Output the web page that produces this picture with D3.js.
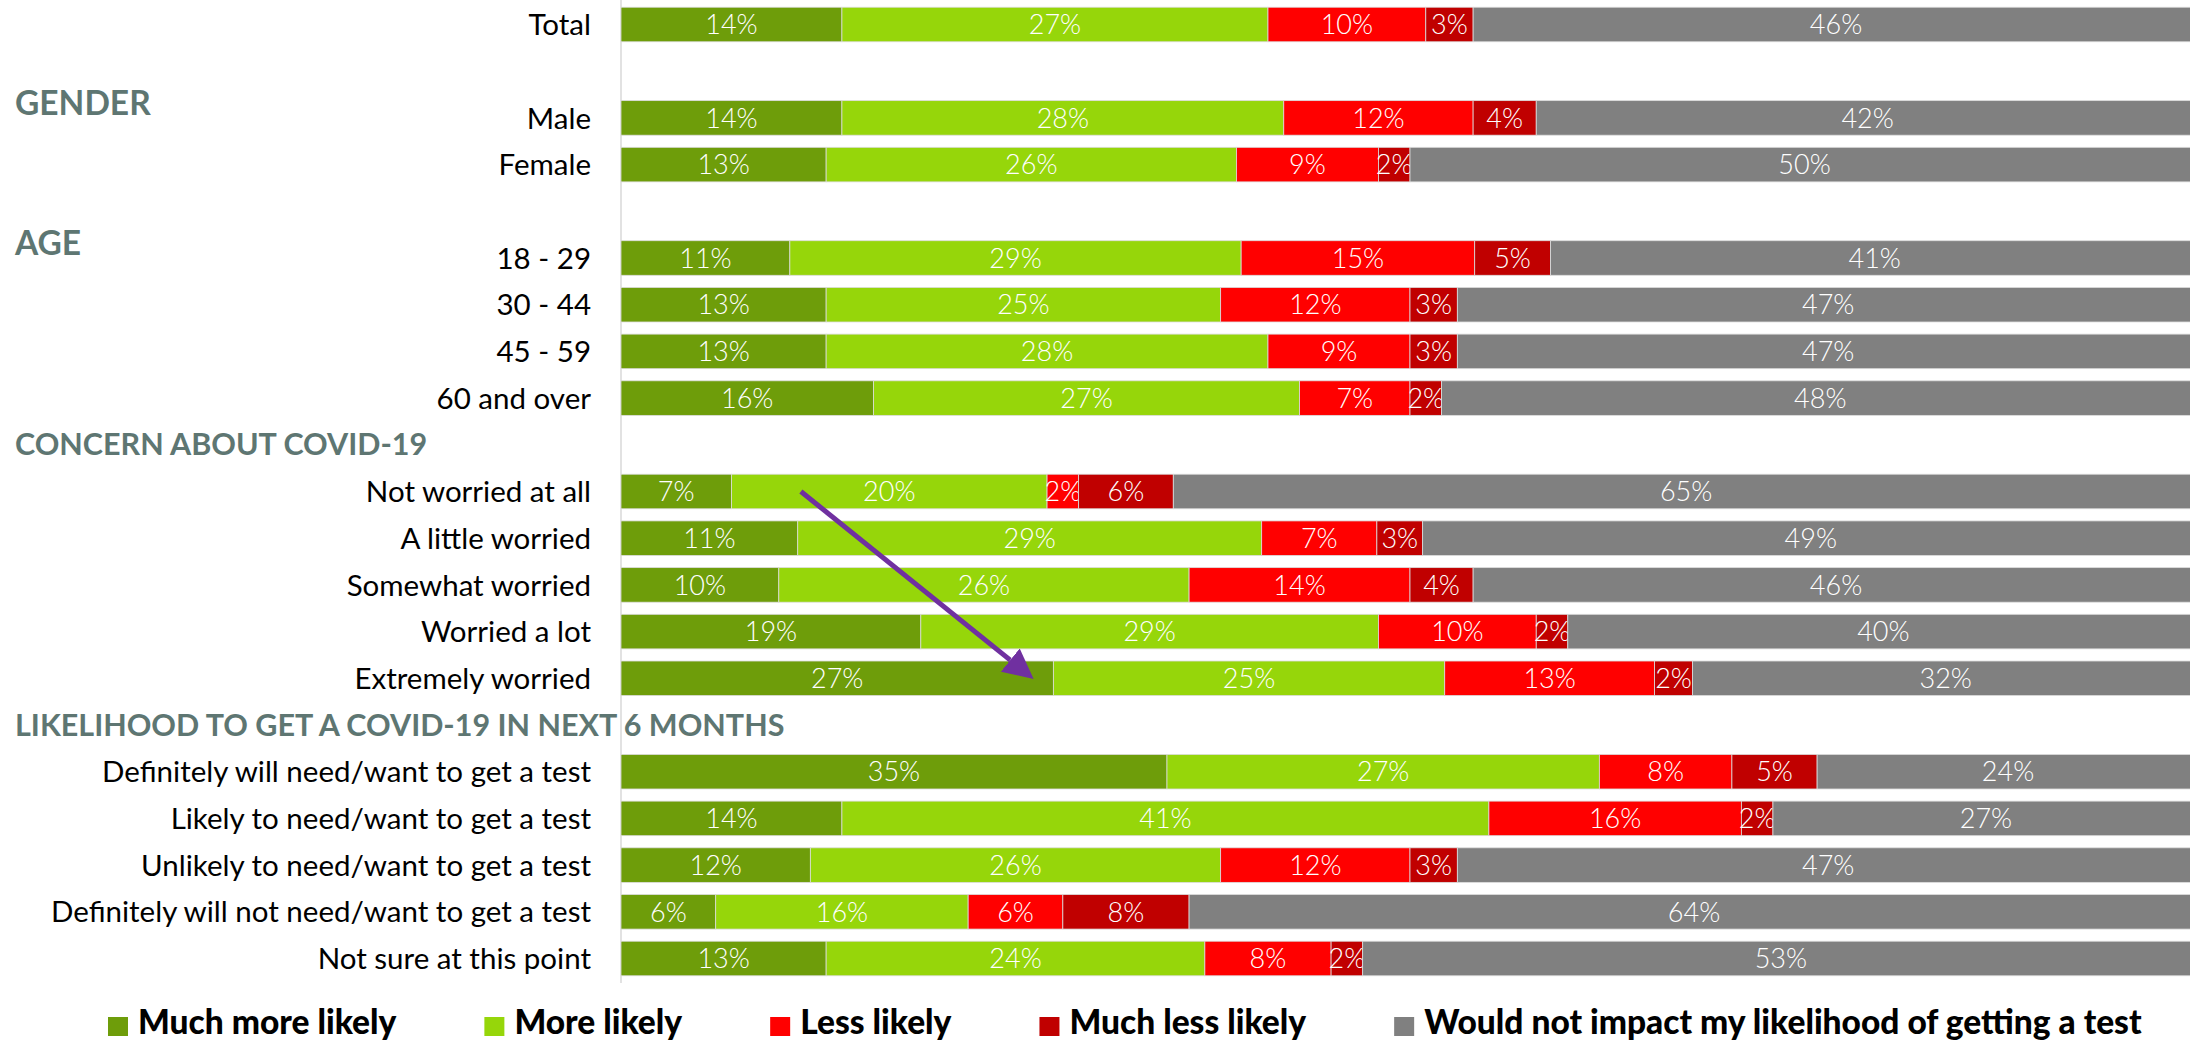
<!DOCTYPE html>
<html><head><meta charset="utf-8">
<script src="https://cdn.jsdelivr.net/npm/d3@7"></script>
<style>html,body{margin:0;padding:0;background:#fff;overflow:hidden}</style>
</head><body><svg id="chart" width="2190" height="1041"></svg>
<script>
// ---------- data ----------
const sectionHeaders = ["", "GENDER", "AGE", "CONCERN ABOUT COVID-19", "LIKELIHOOD TO GET A COVID-19 IN NEXT 6 MONTHS"];
const sectionRows = [
  ["Total"],
  ["Male", "Female"],
  ["18 - 29", "30 - 44", "45 - 59", "60 and over"],
  ["Not worried at all", "A little worried", "Somewhat worried", "Worried a lot", "Extremely worried"],
  ["Definitely will need/want to get a test", "Likely to need/want to get a test", "Unlikely to need/want to get a test", "Definitely will not need/want to get a test", "Not sure at this point"]
];
const categories = sectionRows.flat();
const series = ["Much more likely", "More likely", "Less likely", "Much less likely", "Would not impact my likelihood of getting a test"];
const muchMoreLikely = [14, 14, 13, 10.7, 13, 13, 16, 7, 11.2, 10, 19, 27.4, 34.6, 14, 12, 6, 13];
const moreLikely     = [27, 28, 26, 28.6, 25, 28, 27, 20, 29.4, 26, 29, 24.8, 27.4, 41, 26, 16, 24];
const lessLikely     = [10, 12, 9, 14.8, 12, 9, 7, 2, 7.3, 14, 10, 13.3, 8.4, 16, 12, 6, 8];
const muchLessLikely = [3, 4, 2, 4.8, 3, 3, 2, 6, 2.9, 4, 2, 2.4, 5.4, 2, 3, 8, 2];
const wouldNotImpact = [46, 42, 50, 41.1, 47, 47, 48, 65, 49.2, 46, 40, 32.1, 24.2, 27, 47, 64, 53];
const seriesValues = [muchMoreLikely, moreLikely, lessLikely, muchLessLikely, wouldNotImpact];
const seriesColors = ["#6E9D0A", "#96D60A", "#FF0000", "#C00000", "#808080"];
const xTicks = [0, 100];
// annotation arrow (data coordinates: percent, category)
const arrowFrom = {value: 11.4, category: "Not worried at all"};
const arrowTo = {value: 26.1, category: "Extremely worried"};

// ---------- layout ----------
const W = 2190, H = 1041;
const svg = d3.select("#chart");
const FONT = "Lato, 'Noto Sans', sans-serif";

const slots = [];
sectionHeaders.forEach((h, i) => {
  if (h) slots.push("__h" + i);
  sectionRows[i].forEach(r => slots.push(r));
});
const step = 46.7;
const y = d3.scaleBand().domain(slots)
  .range([24.5 - step / 2, 24.5 - step / 2 + step * slots.length])
  .paddingInner(0.26).paddingOuter(0.13);
const x = d3.scaleLinear().domain(xTicks).range([621, 2199]);

// stacked data
const rows = categories.map((c, i) => {
  const o = {category: c};
  series.forEach((s, j) => o[s] = seriesValues[j][i]);
  return o;
});
const stack = d3.stack().keys(series)(rows);
const color = d3.scaleOrdinal().domain(series).range(seriesColors);

// axis line (category axis without ticks)
const yAxis = d3.axisLeft(y).tickSize(0).tickFormat("");
svg.append("g").attr("transform", `translate(${x(0)},0)`).call(yAxis)
  .call(g => g.select(".domain").attr("d", `M0,0V983`).attr("stroke", "#d9d9d9").attr("stroke-width", 1.5));

// bars
const layers = svg.append("g").selectAll("g").data(stack).join("g")
  .attr("fill", d => color(d.key));
layers.selectAll("rect").data(d => d).join("rect")
  .attr("x", d => x(d[0]))
  .attr("width", d => x(d[1]) - x(d[0]))
  .attr("y", d => y(d.data.category))
  .attr("height", y.bandwidth())
  .attr("stroke", "#dcdcdc").attr("stroke-width", 0.8);

// value labels
const lblSize = 27;
layers.selectAll("text").data(d => d).join("text")
  .attr("x", d => (x(d[0]) + x(d[1])) / 2)
  .attr("y", d => y(d.data.category) + y.bandwidth() / 2 + 0.36 * lblSize)
  .attr("text-anchor", "middle")
  .attr("fill", "#fff")
  .attr("font-family", FONT).attr("font-weight", 300).attr("font-size", lblSize)
  .text(d => Math.round(d[1] - d[0]) + "%");

// category labels
const catSize = 29.5;
svg.append("g").selectAll("text").data(categories).join("text")
  .attr("x", x(0) - 30)
  .attr("y", d => y(d) + y.bandwidth() / 2 + 0.36 * catSize)
  .attr("text-anchor", "end")
  .attr("fill", "#000")
  .attr("font-family", FONT).attr("font-size", catSize)
  .text(d => d);

// section headers
const headerSizes = [0, 33.5, 33.5, 30.5, 30.5];
const headerShift = [0, 32, 32, 0, 0];
svg.append("g").selectAll("text")
  .data(sectionHeaders.map((h, i) => ({h, i})).filter(d => d.h))
  .join("text")
  .attr("x", 15)
  .attr("y", d => y("__h" + d.i) + y.bandwidth() / 2 + headerShift[d.i] + 0.35 * headerSizes[d.i])
  .attr("fill", "#5E7672")
  .attr("font-family", FONT).attr("font-weight", 700).attr("font-size", d => headerSizes[d.i])
  .text(d => d.h);

// arrow annotation
const defs = svg.append("defs");
defs.append("marker").attr("id", "arrowhead")
  .attr("markerUnits", "userSpaceOnUse")
  .attr("markerWidth", 30).attr("markerHeight", 30)
  .attr("refX", 0).attr("refY", 15).attr("orient", "auto")
  .attr("viewBox", "0 0 30 30")
  .append("path").attr("d", "M0,0L30,15L0,30Z").attr("fill", "#7030A0");
const ax1 = x(arrowFrom.value), ay1 = y(arrowFrom.category) + y.bandwidth() / 2;
const ax2 = x(arrowTo.value), ay2 = y(arrowTo.category) + y.bandwidth() / 2;
const ang = Math.atan2(ay2 - ay1, ax2 - ax1);
svg.append("line")
  .attr("x1", ax1).attr("y1", ay1)
  .attr("x2", ax2 - 29 * Math.cos(ang)).attr("y2", ay2 - 29 * Math.sin(ang))
  .attr("stroke", "#7030A0").attr("stroke-width", 5)
  .attr("marker-end", "url(#arrowhead)");

// legend
const legSize = 33.5;
const legend = svg.append("g").attr("class", "legend");
let lx = 108;
series.forEach((s, i) => {
  legend.append("rect").attr("x", lx).attr("y", 1017).attr("width", 20).attr("height", 19)
    .attr("fill", seriesColors[i]);
  const t = legend.append("text").attr("x", lx + 30).attr("y", 1034)
    .attr("font-family", FONT).attr("font-weight", 900).attr("font-size", legSize)
    .attr("fill", "#000").text(s);
  lx += 30 + t.node().getComputedTextLength() + 88;
});
</script></body></html>
